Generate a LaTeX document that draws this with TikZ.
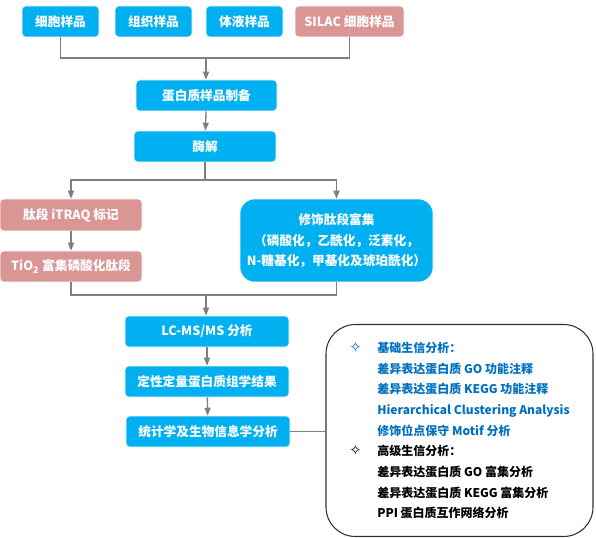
\documentclass[tikz,border=0pt]{standalone}
\usepackage{fontspec}
\setmainfont{Noto Sans CJK SC}
\newfontfamily\symfont{DejaVu Sans}
\usetikzlibrary{arrows.meta}
\definecolor{boxblue}{HTML}{00B0F0}
\definecolor{boxpink}{HTML}{D99694}
\definecolor{linegray}{HTML}{7F7F7F}
\definecolor{textblue}{HTML}{0070C0}
\newcommand{\bulletmark}{\makebox[21pt][l]{\symfont\fontsize{11}{11}\selectfont ✧}}
\tikzset{
  stepbox/.style={fill=boxblue, draw=white, text=white, rounded corners=3pt, inner sep=0pt,
    minimum height=23.25pt, align=center, font=\bfseries\fontsize{9.5}{15.5}\selectfont},
  pinkbox/.style={stepbox, fill=boxpink},
  link/.style={draw=linegray, line width=1pt},
  flow/.style={link, -{Triangle[length=6pt,width=4.5pt]}},
}
\begin{document}
\begin{tikzpicture}[x=0.75pt, y=-0.75pt]
    \useasboundingbox (0,0) rectangle (596,538);
    % samples
    \node[stepbox, minimum width=57.75pt] at (60.5,21.5) (Cell) {细胞样品};
    \node[stepbox, minimum width=57.75pt] at (153.5,21.5) (Tissue) {组织样品};
    \node[stepbox, minimum width=57.75pt] at (244.5,21.5) (Fluid) {体液样品};
    \node[pinkbox, minimum width=81.75pt] at (349.5,21.5) (SILAC) {SILAC 细胞样品};
    \node[stepbox, minimum width=105.75pt] at (206.5,95.5) (Prep) {蛋白质样品制备};
    \node[stepbox, minimum width=106.5pt] at (205,146.5) (Digest) {酶解};
    % enrichment
    \node[pinkbox, minimum width=106.5pt, minimum height=24pt] at (71,215) (iTRAQ) {肽段 iTRAQ 标记};
    \node[pinkbox, minimum width=106.5pt] at (71,266.5) (TiO) {TiO\textsubscript{2} 富集磷酸化肽段};
    \node[stepbox, rounded corners=11pt, minimum width=144.75pt, minimum height=62.25pt] at (336.5,240.5) (Mod)
        {修饰肽段富集\\（磷酸化，乙酰化，泛素化，\\N-糖基化，甲基化及琥珀酰化）};
    % analysis
    \node[stepbox, minimum width=123pt] at (207,331.5) (LCMS) {LC-MS/MS 分析};
    \node[stepbox, minimum width=123pt] at (207,381.5) (Quant) {定性定量蛋白质组学结果};
    \node[stepbox, minimum width=123pt] at (208,431.5) (Stats) {统计学及生物信息学分析};
    \node[draw=black!80, line width=0.8pt, rounded corners=22pt, minimum width=200.25pt, minimum height=159pt,
          align=left, font=\bfseries\fontsize{9}{15.5}\selectfont] at (459.5,430.5) (Bio)
        {\color{textblue}\bulletmark 基础生信分析：\\
         \color{textblue}\hspace*{21pt}差异表达蛋白质 GO 功能注释\\
         \color{textblue}\hspace*{21pt}差异表达蛋白质 KEGG 功能注释\\
         \color{textblue}\hspace*{21pt}Hierarchical Clustering Analysis\\
         \color{textblue}\hspace*{21pt}修饰位点保守 Motif 分析\\
         \bulletmark 高级生信分析：\\
         \hspace*{21pt}差异表达蛋白质 GO 富集分析\\
         \hspace*{21pt}差异表达蛋白质 KEGG 富集分析\\
         \hspace*{21pt}PPI 蛋白质互作网络分析};
    % connectors
    \coordinate (J1) at (206,58);
    \coordinate (J2) at (205,180);
    \coordinate (J3) at (206,295);
    \draw[link] (Cell.south) |- (J1) -| (SILAC.south);
    \draw[flow] (J1) -- (Prep.north -| J1);
    \draw[flow] (Prep) -- (Digest);
    \draw[link] (Digest.south) -- (J2);
    \draw[flow] (J2) -| (iTRAQ.north);
    \draw[flow] (J2) -| (Mod.north);
    \draw[flow] (iTRAQ) -- (TiO);
    \draw[link] (TiO.south) |- (J3) -| (Mod.south);
    \draw[flow] (J3) -- (LCMS.north -| J3);
    \draw[flow] (LCMS) -- (Quant);
    \draw[flow] (Quant) -- (Stats);
    \draw[link] (Stats.east) -- (Stats.east -| Bio.west);
\end{tikzpicture}
\end{document}
